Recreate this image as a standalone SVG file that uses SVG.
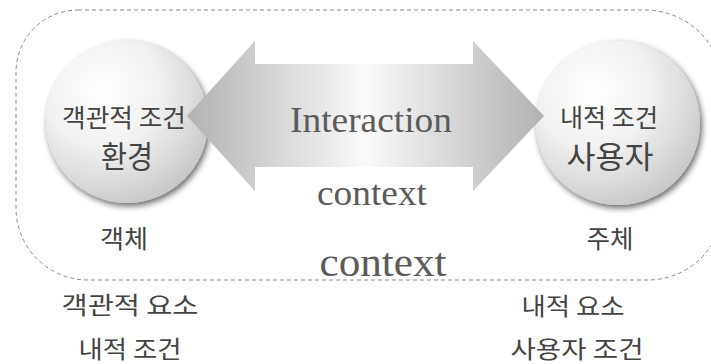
<svg xmlns="http://www.w3.org/2000/svg" width="711" height="364" viewBox="0 0 711 364">
  <defs>
    <radialGradient id="ballFill" cx="0.35" cy="0.3" r="0.8">
      <stop offset="0" stop-color="#ffffff"/>
      <stop offset="0.45" stop-color="#f1f1f1"/>
      <stop offset="1" stop-color="#c2c2c2"/>
    </radialGradient>
    <linearGradient id="arrowFill" x1="187" y1="0" x2="544" y2="0" gradientUnits="userSpaceOnUse">
      <stop offset="0" stop-color="#b2b2b2"/>
      <stop offset="0.5" stop-color="#fafafa"/>
      <stop offset="1" stop-color="#b2b2b2"/>
    </linearGradient>
    <filter id="ballShadow" x="-20%" y="-20%" width="140%" height="140%">
      <feDropShadow dx="2" dy="3" stdDeviation="3" flood-color="#000" flood-opacity="0.6"/>
    </filter>
  </defs>
  <style>
    .frame { fill: none; stroke: #8a8a8a; stroke-width: 1; stroke-dasharray: 4 3; }
    .ball { fill: url(#ballFill); filter: url(#ballShadow); }
    .ko { font-family: "Noto Sans CJK KR", "Noto Sans", sans-serif; fill: #444444; text-anchor: middle; }
    .en { font-family: "Liberation Serif", "DejaVu Serif", serif; fill: #5b5b5b; text-anchor: middle; }
  </style>

  <rect width="711" height="364" fill="#ffffff"/>

  <!-- dashed context boundary -->
  <path class="frame" d="M 78,10 H 645 A 78 78 0 0 1 723 88 V 205 A 75 75 0 0 1 648 280 H 88 A 72 72 0 0 1 16 208 V 72 A 62 62 0 0 1 78 10 Z"/>

  <!-- environment node -->
  <g id="environment">
    <circle class="ball" cx="127" cy="122" r="81"/>
  </g>

  <!-- user node -->
  <g id="user">
    <circle class="ball" cx="618" cy="123" r="82"/>
  </g>

  <!-- two-way interaction arrow -->
  <g id="connectors">
    <polygon fill="url(#arrowFill)" points="187,116 255,41 255,64 473,64 473,41 544,116 473,191 473,167 255,167 255,191"/>
  </g>

  <!-- node labels -->
  <g id="environment-labels">
    <text class="ko" x="124" y="127" font-size="25" textLength="124" lengthAdjust="spacingAndGlyphs">객관적 조건</text>
    <text class="ko" x="127" y="168" font-size="31" textLength="52" lengthAdjust="spacingAndGlyphs">환경</text>
    <text class="ko" x="124" y="248" font-size="25" textLength="48" lengthAdjust="spacingAndGlyphs">객체</text>
  </g>
  <g id="user-labels">
    <text class="ko" x="609" y="127" font-size="25" textLength="98" lengthAdjust="spacingAndGlyphs">내적 조건</text>
    <text class="ko" x="610" y="168" font-size="31" textLength="87" lengthAdjust="spacingAndGlyphs">사용자</text>
    <text class="ko" x="610" y="248" font-size="25" textLength="47" lengthAdjust="spacingAndGlyphs">주체</text>
  </g>

  <!-- arrow and context labels -->
  <g id="interaction-labels">
    <text class="en" x="371" y="132" font-size="35" textLength="162" lengthAdjust="spacingAndGlyphs">Interaction</text>
    <text class="en" x="372" y="205" font-size="35" textLength="110" lengthAdjust="spacingAndGlyphs">context</text>
    <text class="en" x="383" y="276" font-size="40" textLength="127" lengthAdjust="spacingAndGlyphs">context</text>
  </g>

  <!-- captions below the boundary -->
  <g id="captions">
    <text class="ko" x="130" y="314" font-size="24" textLength="137" lengthAdjust="spacingAndGlyphs">객관적 요소</text>
    <text class="ko" x="130" y="358" font-size="24" textLength="103" lengthAdjust="spacingAndGlyphs">내적 조건</text>
    <text class="ko" x="573" y="315" font-size="24" textLength="103" lengthAdjust="spacingAndGlyphs">내적 요소</text>
    <text class="ko" x="577" y="358" font-size="24" textLength="133" lengthAdjust="spacingAndGlyphs">사용자 조건</text>
  </g>
</svg>
